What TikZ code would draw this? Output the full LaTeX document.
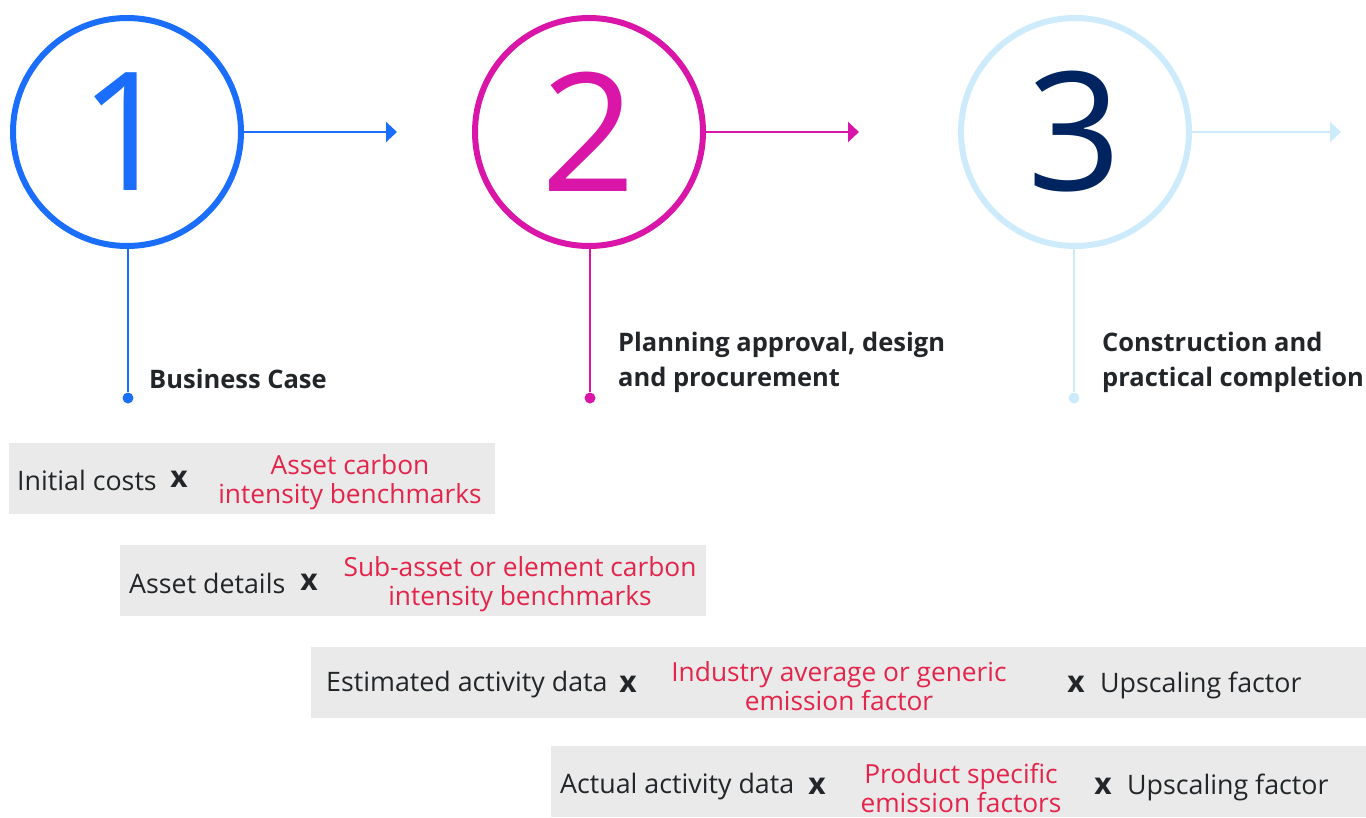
\documentclass[tikz,border=0pt]{standalone}
\usepackage{fontspec}
\setmainfont{Open Sans}
\usetikzlibrary{arrows.meta}
\definecolor{cblue}{HTML}{1B6EFC}
\definecolor{cmag}{HTML}{D916A8}
\definecolor{clight}{HTML}{CDEBFB}
\definecolor{cnavy}{HTML}{00245F}
\definecolor{ctext}{HTML}{222629}
\definecolor{cred}{HTML}{E4244A}
\definecolor{cbox}{HTML}{EAEAEA}
\tikzset{
  ring/.style={circle, draw=#1, line width=6pt, minimum size=228pt, inner sep=0pt},
  num/.style={font=\fontsize{165}{165}\selectfont, text=#1},
  conn/.style={draw=#1, line width=2pt, -{Triangle[length=11pt,width=20pt]}},
  stem/.style={draw=#1, line width=2pt},
  dot/.style={circle, fill=#1, inner sep=0pt, minimum size=11pt},
  title/.style={font=\fontsize{25.5}{35}\selectfont\bfseries, text=ctext, anchor=west, align=left, inner sep=0pt},
  greybox/.style={fill=cbox, inner sep=0pt, anchor=north west},
  btext/.style={font=\fontsize{26.8}{29}\selectfont, text=ctext, inner sep=0pt},
  rtext/.style={font=\fontsize{26.3}{29}\selectfont, text=cred, align=center, inner sep=0pt},
  times/.style={font=\fontsize{30}{29}\selectfont\bfseries, text=ctext, inner sep=0pt},
}
\begin{document}
\begin{tikzpicture}[x=1pt,y=-1pt]
\useasboundingbox (0,0) rectangle (1366,817);
% circles
\node[ring=cblue] (c1) at (127,132) {};
\node[ring=cmag] (c2) at (589,132) {};
\node[ring=clight] (c3) at (1075,132) {};
\node[num=cblue] (n1) at (127,132) {1};
\node[num=cmag] (n2) at (589,132) {2};
\node[num=cnavy] (n3) at (1075,132) {3};
% arrows
\coordinate (a1) at (397,132);
\coordinate (a2) at (859,132);
\coordinate (a3) at (1341,132);
\draw[conn=cblue] (c1.east) -- (a1);
\draw[conn=cmag] (c2.east) -- (a2);
\draw[conn=clight] (c3.east) -- (a3);
% stems
\node[dot=cblue] (d1) at (128,398) {};
\node[dot=cmag] (d2) at (590,398) {};
\node[dot=clight] (d3) at (1074,398) {};
\draw[stem=cblue] (c1.south -| d1) -- (d1);
\draw[stem=cmag] (c2.south -| d2) -- (d2);
\draw[stem=clight] (c3.south -| d3) -- (d3);
% titles
\node[title] (t1) at (149,379) {Business Case};
\node[title] (t2) at (618,362) {Planning approval, design\\and procurement};
\node[title] (t3) at (1102,362) {Construction and\\practical completion};
% boxes
\node[greybox, minimum width=486pt, minimum height=71pt] (b1) at (9,443) {};
\node[greybox, minimum width=586pt, minimum height=71pt] (b2) at (120,545) {};
\node[greybox, minimum width=1055pt, minimum height=71pt] (b3) at (311,647) {};
\node[greybox, minimum width=815pt, minimum height=71pt] (b4) at (551,746) {};
% box 1
\node[btext, anchor=west] (i1) at (17,480) {Initial costs};
\node[times] (x1) at (179,479) {x};
\node[rtext] (r1) at (350,482) {Asset carbon\\intensity benchmarks};
% box 2
\node[btext, anchor=west] (i2) at (129,583) {Asset details};
\node[times] (x2) at (309,582) {x};
\node[rtext] (r2) at (520,584) {Sub-asset or element carbon\\intensity benchmarks};
% box 3
\node[btext, anchor=west] (i3) at (326,685) {Estimated activity data};
\node[times] (x3) at (628,684) {x};
\node[rtext] (r3) at (839,686) {Industry average or generic\\emission factor};
\node[times] (y3) at (1076,684) {x};
\node[btext, anchor=west] (u3) at (1100,685) {Upscaling factor};
% box 4
\node[btext, anchor=west] (i4) at (560,787) {Actual activity data};
\node[times] (x4) at (817,786) {x};
\node[rtext] (r4) at (961,788) {Product specific\\emission factors};
\node[times] (y4) at (1103,786) {x};
\node[btext, anchor=west] (u4) at (1127,787) {Upscaling factor};
\end{tikzpicture}
\end{document}
